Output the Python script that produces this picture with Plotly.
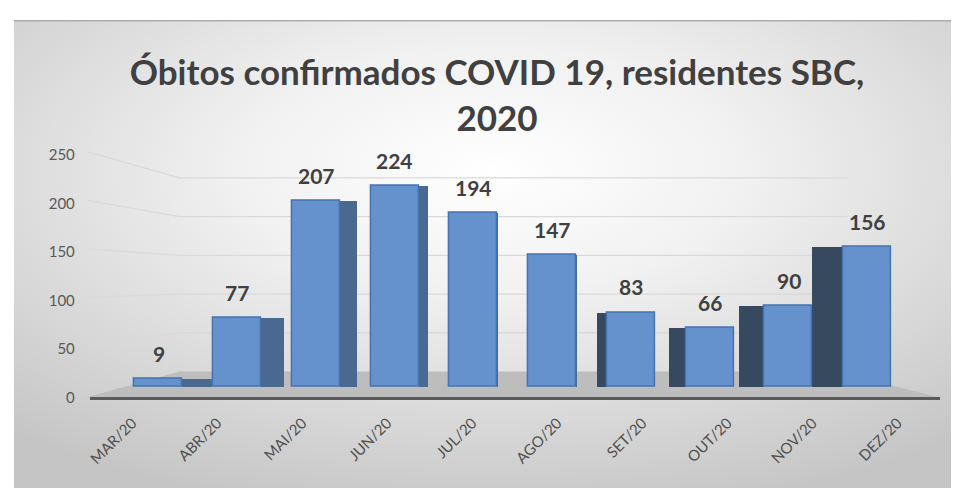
import base64
import plotly.graph_objects as go

# ---------------- data ----------------
months = ["MAR/20", "ABR/20", "MAI/20", "JUN/20", "JUL/20",
          "AGO/20", "SET/20", "OUT/20", "NOV/20", "DEZ/20"]
deaths = [9, 77, 207, 224, 194, 147, 83, 66, 90, 156]
y_ticks = [0, 50, 100, 150, 200, 250]
title_text = "Óbitos confirmados COVID 19, residentes SBC,<br>2020"

# ---------------- layout helpers (page pixels; the page body has an 8px margin) ----------------
W, H = 959, 488
OFF = 8
def px(x):
    return (x - OFF) / W
def py(y):
    return 1 - (y - OFF) / H

FONT = "Lato"
# pseudo-3D side faces (pixels): positive -> right side, negative -> left side
side_px = [30, 23, 17, 9, 0, 0, -10, -17, -25, -31]
front_w = 0.61
cat_px = 79.0
side_width = [abs(s) / cat_px for s in side_px]
side_offset = [front_w / 2 if s >= 0 else -front_w / 2 - abs(s) / cat_px for s in side_px]
side_color = ["#4a6991" if s >= 0 else "#36495f" for s in side_px]

fig = go.Figure()

# front axis (category labels + value ticks) – invisible carrier trace
fig.add_trace(go.Scatter(
    x=months, y=[None] * len(months), xaxis="x", yaxis="y",
    mode="markers", hoverinfo="skip", showlegend=False,
))
# side faces
fig.add_trace(go.Bar(
    x=months, y=deaths, xaxis="x2", yaxis="y2",
    width=side_width, offset=side_offset,
    marker=dict(color=side_color, line=dict(width=0)),
    hoverinfo="skip", showlegend=False,
))
# front faces
fig.add_trace(go.Bar(
    x=months, y=deaths, xaxis="x2", yaxis="y2",
    width=front_w,
    marker=dict(color="#6592cd", line=dict(color="#4473b3", width=1.5)),
    showlegend=False,
))

# data labels
annotations = []
for m, v in zip(months, deaths):
    annotations.append(dict(
        x=m, y=v, xref="x2", yref="y2", text=f"<b>{v}</b>", showarrow=False,
        yanchor="bottom", yshift=11,
        font=dict(family=FONT, size=21, color="#404040"),
    ))

# background: radial grey gradient
svg = (
    "<svg xmlns='http://www.w3.org/2000/svg' width='948' height='478' viewBox='0 0 948 478' "
    "preserveAspectRatio='none'><defs><radialGradient id='g' cx='0.5' cy='0.32' r='0.75'>"
    "<stop offset='0' stop-color='#ffffff'/><stop offset='0.35' stop-color='#f1f1f1'/>"
    "<stop offset='1' stop-color='#c5c5c5'/></radialGradient></defs>"
    "<rect width='948' height='478' fill='url(#g)'/>"
    "<rect width='948' height='1.5' fill='#a9a9a9'/></svg>"
)
src = "data:image/svg+xml;base64," + base64.b64encode(svg.encode()).decode()

shapes = []
# floor
shapes.append(dict(
    type="path", xref="paper", yref="paper", layer="below",
    path=f"M {px(83)},{py(402)} L {px(177)},{py(375)} L {px(835)},{py(375)} L {px(940)},{py(402)} Z",
    fillcolor="#bdbdbd", line=dict(width=0),
))
# back wall + left wall grid lines
for v in y_ticks[1:]:
    yb = 375 - v * 0.804
    yf = 402 - v * 1.008 - 3
    shapes.append(dict(
        type="path", xref="paper", yref="paper", layer="below",
        path=f"M {px(85)},{py(yf)} L {px(177)},{py(yb)} L {px(847)},{py(yb)}",
        line=dict(color="#d9d9d9", width=1.3),
    ))

fig.update_layout(
    width=W, height=H, margin=dict(l=0, r=0, t=0, b=0),
    paper_bgcolor="white", plot_bgcolor="rgba(0,0,0,0)",
    barmode="overlay", bargap=0,
    title=dict(text=f"<b>{title_text}</b>", x=px(497), xanchor="center",
               y=py(85), yanchor="top",
               font=dict(family=FONT, size=35, color="#404040")),
    images=[dict(source=src, xref="paper", yref="paper", x=px(11), y=py(10),
                 sizex=1.0, sizey=1.0, xanchor="left", yanchor="top",
                 sizing="stretch", layer="below")],
    shapes=shapes,
    annotations=annotations,
    xaxis=dict(domain=[px(87), px(940)], range=[-0.5, 9.5], type="category",
               categoryarray=months, anchor="y", tickangle=-45,
               showline=True, linecolor="#5a5a5a", linewidth=3, showgrid=False,
               zeroline=False, ticks="", ticklabelstandoff=8,
               tickfont=dict(family=FONT, size=15, color="#505050")),
    yaxis=dict(domain=[py(402), py(150)], range=[0, 250], tickvals=y_ticks,
               anchor="free", position=px(72), showgrid=False, showline=False,
               zeroline=False, ticks="",
               tickfont=dict(family=FONT, size=15, color="#595959")),
    xaxis2=dict(domain=[px(116.5), px(906.5)], range=[-0.5, 9.5], type="category",
                categoryarray=months, anchor="y2", visible=False),
    yaxis2=dict(domain=[py(402), py(150)], range=[-11.8, 258.3], anchor="x2",
                visible=False),
)

fig.write_html(
    "out.html", config={"displayModeBar": False},
    post_script="document.documentElement.style.overflow='hidden';"
                "document.body.style.overflow='hidden';",
)
